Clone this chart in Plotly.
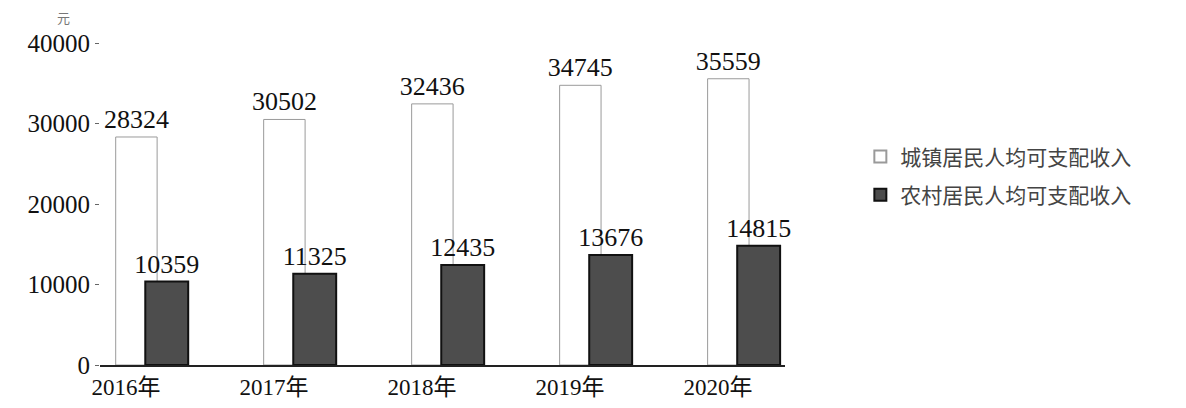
import plotly.graph_objects as go

years = ["2016年", "2017年", "2018年", "2019年", "2020年"]
urban = [28324, 30502, 32436, 34745, 35559]
rural = [10359, 11325, 12435, 13676, 14815]
urban_name = "城镇居民人均可支配收入"
rural_name = "农村居民人均可支配收入"
y_ticks = [0, 10000, 20000, 30000, 40000]

serif = "Liberation Serif, Times New Roman, serif"
cjk = "Noto Sans CJK SC, sans-serif"

fig = go.Figure()
fig.add_trace(go.Bar(
    x=years, y=urban, name=urban_name, legendgroup="u",
    width=0.28, offset=-0.07,
    marker=dict(color="white", line=dict(color="#9a9a9a", width=1)),
    text=[str(v) for v in urban], textposition="outside", constraintext="none",
    textfont=dict(family=serif, size=26, color="#111"),
    cliponaxis=False,
))
fig.add_trace(go.Bar(
    x=years, y=rural, name=rural_name, legendgroup="r",
    width=0.29, offset=0.13,
    marker=dict(color="#4d4d4d", line=dict(color="#111", width=2)),
    text=[str(v) for v in rural], textposition="outside", constraintext="none",
    textfont=dict(family=serif, size=26, color="#111"),
    cliponaxis=False,
))

fig.update_layout(
    width=1186, height=408,
    margin=dict(l=92, r=409, t=35, b=51),
    paper_bgcolor="white", plot_bgcolor="white",
    barmode="overlay",
    showlegend=True,
    legend=dict(x=1.11, y=0.71, xanchor="left", yanchor="top",
                font=dict(family=cjk, size=21, color="#444"),
                tracegroupgap=8, itemsizing="constant"),
    xaxis=dict(range=[-0.176, 4.453], showline=True, linecolor="#222", linewidth=2,
               ticks="", automargin=False,
               tickfont=dict(family=serif + ", " + cjk, size=23, color="#111"),
               showgrid=False),
    yaxis=dict(range=[0, 40000], tickvals=y_ticks, ticktext=[str(v) for v in y_ticks],
               ticks="outside", ticklen=4, tickcolor="#666", showline=False,
               showgrid=False, zeroline=False, automargin=False,
               tickfont=dict(family=serif, size=25, color="#111")),
)
fig.add_annotation(text="元", xref="paper", yref="paper", x=-0.066, y=1.078,
                   yanchor="middle", showarrow=False,
                   font=dict(family=cjk, size=13, color="#777"))

fig.write_html("out.html")
